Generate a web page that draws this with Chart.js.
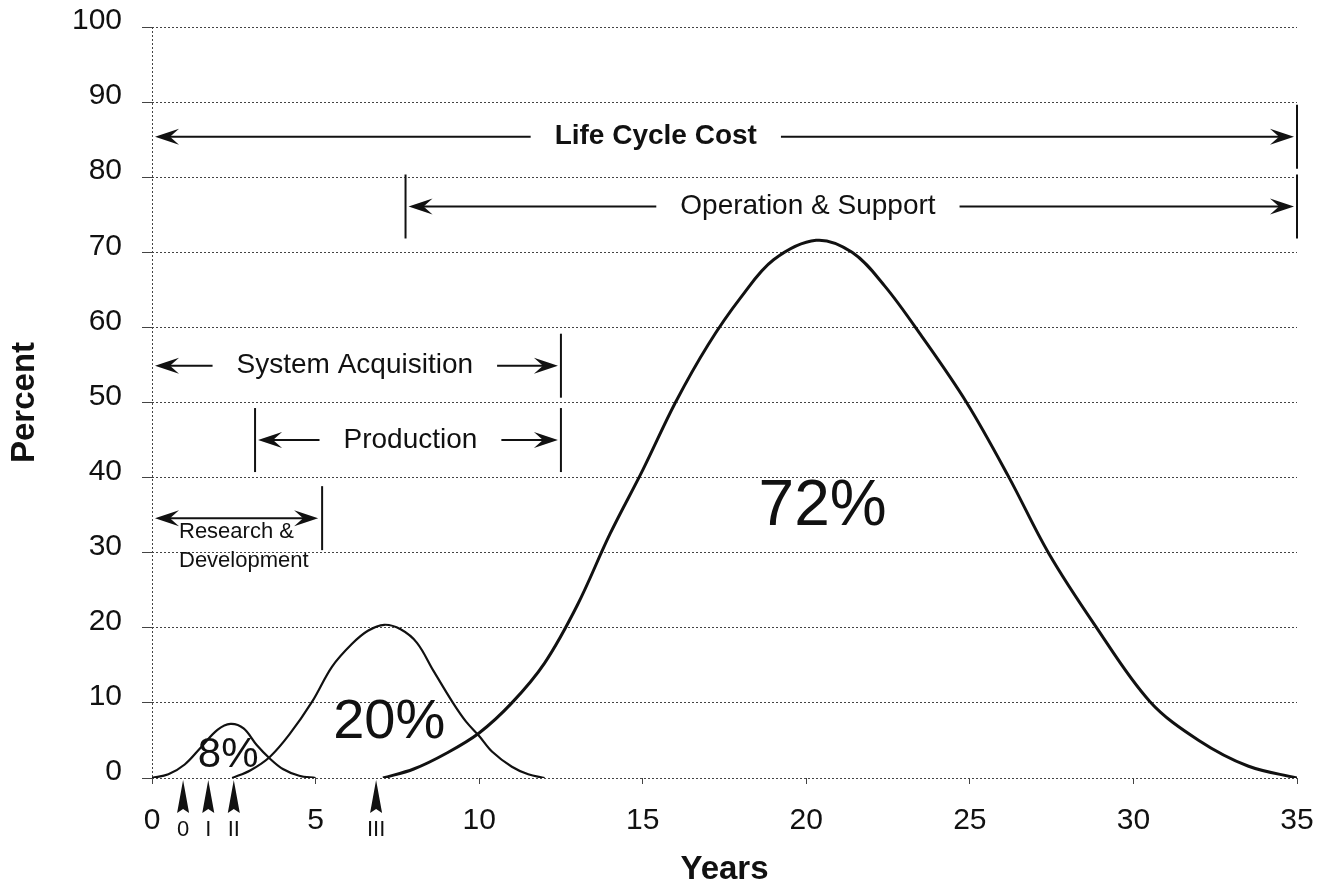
<!DOCTYPE html>
<html lang="en">
<head>
  <meta charset="UTF-8" />
  <title>Life Cycle Cost</title>
  <script src="https://cdn.jsdelivr.net/npm/chart.js"></script>
  <style>
    body {
      margin: 0;
      padding: 0;
      background: #fff;
    }
    canvas {
      display: block;
    }
  </style>
</head>
<body>
  <canvas id="lccChart" width="1335" height="890"></canvas>

<script>
  // axis ticks
  const xTicks = [0, 5, 10, 15, 20, 25, 30, 35];
  const yTicks = [0, 10, 20, 30, 40, 50, 60, 70, 80, 90, 100];

  // cost curves (years, percent)
  const rdYears = [0, 0.5, 1, 1.5, 2, 2.4, 2.8, 3.2, 3.6, 4, 4.5, 5];
  const rdCost  = [0, 0.5, 1.8, 4.1, 6.4, 7.2, 6.6, 4.4, 2.6, 1.2, 0.3, 0];

  const prodYears = [2.45, 3, 3.6, 4.2, 4.9, 5.5, 6.1, 6.6, 7.1, 7.6, 8.1, 8.6, 9.2, 9.6, 10, 10.4, 11, 11.5, 12];
  const prodCost  = [0, 1.0, 2.8, 5.8, 10.2, 14.8, 17.8, 19.6, 20.4, 19.8, 18, 14.3, 10, 7.5, 5.6, 3.5, 1.5, 0.5, 0];

  const osYears = [7.06, 8, 9, 10, 11, 12, 13, 14, 15, 16, 17, 18, 19, 20.3, 21.4, 22.4, 23.5, 24.9, 26.2, 27.4, 28.8, 30.5, 32, 33.5, 35];
  const osCost  = [0, 1.2, 3.3, 6, 10, 15.3, 23, 32.5, 41, 50, 57.7, 64, 69, 71.6, 70, 65.5, 59, 50, 40, 30, 20.5, 10.2, 5, 1.6, 0];

  // phase spans (years) and the percent level of each arrow
  const phaseNames = ['Life Cycle Cost', 'Operation & Support', 'System Acquisition', 'Production'];
  const phaseStart = [0, 7.75, 0, 3.15];
  const phaseEnd   = [35, 35, 12.5, 12.5];
  const phaseLevel = [85.4, 76.1, 54.9, 45.0];
  const phaseTextX = [15.4, 20.05, 6.2, 7.9];

  const rdNames = ['Research &', 'Development'];
  const rdSpan  = [0, 5.2];
  const rdLevel = 34.6;

  // share of life cycle cost
  const shareLabels = ['8%', '20%', '72%'];
  const shareX = [2.33, 7.25, 20.5];
  const shareY = [3.0, 7.4, 36.1];

  // milestones
  const milestoneNames = ['0', 'I', 'II', 'III'];
  const milestoneYears = [0.95, 1.72, 2.5, 6.85];

  const FONT = '"Liberation Sans", Arial, sans-serif';
  Chart.defaults.font.family = FONT;
  Chart.defaults.color = '#111';

  function toPoints(xs, ys) {
    return xs.map((x, i) => ({ x: x, y: ys[i] }));
  }

  function arrowHead(ctx, tipX, y, dir) {
    ctx.beginPath();
    ctx.moveTo(tipX, y);
    ctx.lineTo(tipX - dir * 24, y - 8);
    ctx.lineTo(tipX - dir * 15, y);
    ctx.lineTo(tipX - dir * 24, y + 8);
    ctx.closePath();
    ctx.fill();
  }

  function hLine(ctx, x0, x1, y) {
    ctx.beginPath();
    ctx.moveTo(x0, y);
    ctx.lineTo(x1, y);
    ctx.stroke();
  }

  function vBar(ctx, x, y) {
    ctx.beginPath();
    ctx.moveTo(x, y - 32);
    ctx.lineTo(x, y + 32);
    ctx.stroke();
  }

  const annotations = {
    id: 'annotations',
    afterDatasetsDraw(chart) {
      const ctx = chart.ctx;
      const sx = chart.scales.x;
      const sy = chart.scales.y;
      ctx.save();
      ctx.strokeStyle = '#111';
      ctx.fillStyle = '#111';
      ctx.lineWidth = 2;
      ctx.textBaseline = 'middle';

      // phase arrows with centred labels
      phaseNames.forEach((name, i) => {
        const y = sy.getPixelForValue(phaseLevel[i]);
        const x0 = sx.getPixelForValue(phaseStart[i]);
        const x1 = sx.getPixelForValue(phaseEnd[i]);
        const tx = sx.getPixelForValue(phaseTextX[i]);
        ctx.font = (i === 0 ? 'bold ' : '') + '28px ' + FONT;
        const w = ctx.measureText(name).width;
        ctx.textAlign = 'center';
        ctx.fillText(name, tx, y);
        hLine(ctx, x0 + 10, tx - w / 2 - 24, y);
        hLine(ctx, tx + w / 2 + 24, x1 - 10, y);
        arrowHead(ctx, x0 + 3, y, -1);
        arrowHead(ctx, x1 - 3, y, 1);
        if (phaseStart[i] > 0) vBar(ctx, x0, y);
        vBar(ctx, x1, y);
      });

      // research & development arrow
      const ry = sy.getPixelForValue(rdLevel);
      const r0 = sx.getPixelForValue(rdSpan[0]);
      const r1 = sx.getPixelForValue(rdSpan[1]);
      hLine(ctx, r0 + 10, r1 - 10, ry);
      arrowHead(ctx, r0 + 3, ry, -1);
      arrowHead(ctx, r1 - 4, ry, 1);
      vBar(ctx, r1, ry);
      ctx.font = '22px ' + FONT;
      ctx.textAlign = 'left';
      ctx.fillText(rdNames[0], r0 + 27, ry + 14);
      ctx.fillText(rdNames[1], r0 + 27, ry + 43);

      // share labels
      const shareSizes = [42, 56, 64];
      ctx.textAlign = 'center';
      shareLabels.forEach((t, i) => {
        ctx.font = shareSizes[i] + 'px ' + FONT;
        ctx.fillText(t, sx.getPixelForValue(shareX[i]), sy.getPixelForValue(shareY[i]));
      });

      // milestone markers below the axis
      const base = sy.getPixelForValue(0);
      ctx.font = '22px ' + FONT;
      milestoneYears.forEach((m, i) => {
        const mx = sx.getPixelForValue(m);
        ctx.beginPath();
        ctx.moveTo(mx, base + 2);
        ctx.lineTo(mx - 6, base + 35);
        ctx.lineTo(mx, base + 31);
        ctx.lineTo(mx + 6, base + 35);
        ctx.closePath();
        ctx.fill();
        ctx.fillText(milestoneNames[i], mx, base + 52);
      });
      ctx.restore();
    }
  };

  const ctx = document.getElementById('lccChart').getContext('2d');
  const chart = new Chart(ctx, {
    type: 'line',
    data: {
      datasets: [{
        label: 'Research & Development',
        data: toPoints(rdYears, rdCost),
        borderColor: '#111',
        borderWidth: 2.2
      }, {
        label: 'Production',
        data: toPoints(prodYears, prodCost),
        borderColor: '#111',
        borderWidth: 2.2
      }, {
        label: 'Operation & Support',
        data: toPoints(osYears, osCost),
        borderColor: '#111',
        borderWidth: 3
      }]
    },
    options: {
      responsive: false,
      animation: false,
      devicePixelRatio: 1,
      layout: {
        padding: { top: 27, right: 38, left: 0, bottom: 0 }
      },
      elements: {
        point: { radius: 0 },
        line: { tension: 0.35, fill: false }
      },
      plugins: {
        legend: { display: false },
        tooltip: { enabled: false }
      },
      scales: {
        x: {
          type: 'linear',
          min: 0,
          max: 35,
          afterFit: (scale) => { scale.height = 112; },
          afterBuildTicks: (scale) => { scale.ticks = xTicks.map(v => ({ value: v })); },
          ticks: {
            font: { size: 30 },
            padding: 19,
            maxRotation: 0
          },
          grid: {
            color: (c) => (c.tick && c.tick.value === 0 ? '#444' : 'transparent'),
            tickColor: '#444',
            tickLength: 6,
            lineWidth: 1
          },
          border: { display: false, dash: [2, 2] },
          title: {
            display: true,
            text: 'Years',
            font: { size: 33, weight: 'bold' },
            padding: { top: 0, bottom: 0 }
          }
        },
        y: {
          min: 0,
          max: 100,
          afterFit: (scale) => {
            scale.width = 152;
            scale.paddingTop = 0;
            scale.paddingBottom = 0;
          },
          afterBuildTicks: (scale) => { scale.ticks = yTicks.map(v => ({ value: v })); },
          ticks: {
            font: { size: 30 },
            padding: 20,
            labelOffset: -6
          },
          grid: {
            color: '#444',
            tickColor: '#444',
            tickLength: 10,
            lineWidth: 1
          },
          border: { display: false, dash: [2, 2] },
          title: {
            display: true,
            text: 'Percent',
            font: { size: 33, weight: 'bold' },
            padding: { top: 5, bottom: 0 }
          }
        }
      }
    },
    plugins: [annotations]
  });
</script>
</body>
</html>
